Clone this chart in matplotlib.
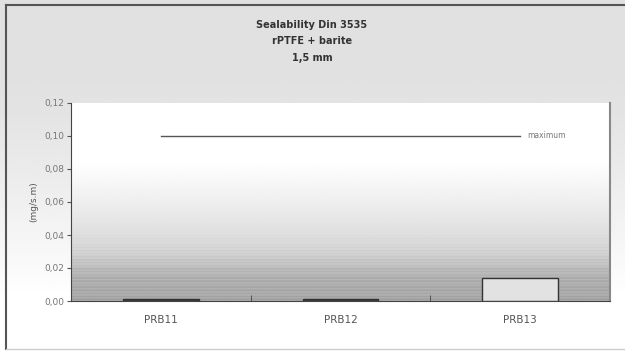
import numpy as np
import matplotlib
matplotlib.use("Agg")
import matplotlib.pyplot as plt

categories = ["PRB11", "PRB12", "PRB13"]
values = [0.0015, 0.0012, 0.014]
maximum = [0.10, 0.10, 0.10]
yticks = [0.00, 0.02, 0.04, 0.06, 0.08, 0.10, 0.12]
ytick_labels = ["0,00", "0,02", "0,04", "0,06", "0,08", "0,10", "0,12"]
title_lines = ["Sealability Din 3535", "rPTFE + barite", "1,5 mm"]
bar_colors = ["#3a3a3a", "#3a3a3a", "#e2e2e2"]

W, H = 625, 351
fig = plt.figure(figsize=(W / 100, H / 100), dpi=100)
fig.patch.set_facecolor("white")

# figure background gradient (gray at top fading to white)
bg = fig.add_axes([0, 0, 1, 1], zorder=-10)
rows = np.linspace(0, 1, 200)
shade = np.clip(0.88 + 0.12 * np.clip((rows - 0.2) / 0.65, 0, 1) ** 1.3, 0, 1)
shade[rows > 0.86] = 1.0
img = np.repeat(shade[:, None], 10, axis=1)
bg.imshow(img, cmap="gray", vmin=0, vmax=1, aspect="auto", extent=[0, 1, 0, 1],
          origin="upper")
bg.set_xlim(0, 1)
bg.set_ylim(0, 1)
bg.axis("off")
# outer frame lines (left and top)
bg.plot([6 / W, 6 / W], [1 - 5 / H, 1 - 349 / H], color="#555555", lw=1.5)
bg.plot([6 / W, 1], [1 - 5 / H, 1 - 5 / H], color="#555555", lw=1.5)
bg.plot([6 / W, 1], [1 - 349 / H, 1 - 349 / H], color="#cccccc", lw=1)

left, right, top, bottom = 71, 610, 103, 301
ax = fig.add_axes([left / W, 1 - bottom / H, (right - left) / W, (bottom - top) / H])
x = np.arange(len(categories))
ax.set_xlim(-0.5, 2.5)
ax.set_ylim(0, 0.12)

# plot area gradient: white at top, gray striped toward bottom
n = 240
yy = np.linspace(0.12, 0, n)
base = np.where(yy > 0.085, 1.0, 1.0 - 0.25 * ((0.085 - yy) / 0.085) ** 1.1)
stripes = 0.05 * (np.sin(np.arange(n) * 1.7) > 0.3) * np.clip((0.05 - yy) / 0.03, 0, 1)
deep = 0.08 * np.clip((0.03 - yy) / 0.015, 0, 1)
col = np.clip(base - stripes - deep, 0, 1)
ax.imshow(np.repeat(col[:, None], 10, axis=1), cmap="gray", vmin=0, vmax=1,
          aspect="auto", extent=[-0.5, 2.5, 0, 0.12], origin="upper", zorder=0)

ax.bar(x, values, width=0.42, color=bar_colors, edgecolor="#333333", linewidth=1.0,
       zorder=3)
ax.plot(x, maximum, color="#555555", lw=1.0, zorder=4)
ax.text(2.04, 0.1, "maximum", fontsize=5.5, color="#777777", va="center", ha="left")

ax.set_yticks(yticks)
ax.set_yticklabels(ytick_labels, fontsize=6.5, color="#777777")
ax.set_xticks(x)
ax.set_xticklabels(categories, fontsize=7.5, color="#555555")
ax.set_xticks([0.5, 1.5], minor=True)
ax.tick_params(axis="x", which="major", length=0, pad=10)
ax.tick_params(axis="x", which="minor", length=4, direction="in", color="#444444")
ax.tick_params(axis="y", length=3, direction="out", color="#555555", pad=2)
ax.set_ylabel("(mg/s.m)", fontsize=6.5, color="#555555", labelpad=4)

ax.spines["top"].set_visible(False)
ax.spines["left"].set_color("#444444")
ax.spines["bottom"].set_color("#444444")
ax.spines["right"].set_color("#888888")
ax.spines["right"].set_linewidth(1.5)

for i, t in enumerate(title_lines):
    fig.text(312 / W, 1 - (25 + 16.5 * i) / H, t, fontsize=7, fontweight="bold",
             color="#333333", ha="center", va="center")

fig.savefig("out.png", dpi=100, facecolor=fig.get_facecolor())
